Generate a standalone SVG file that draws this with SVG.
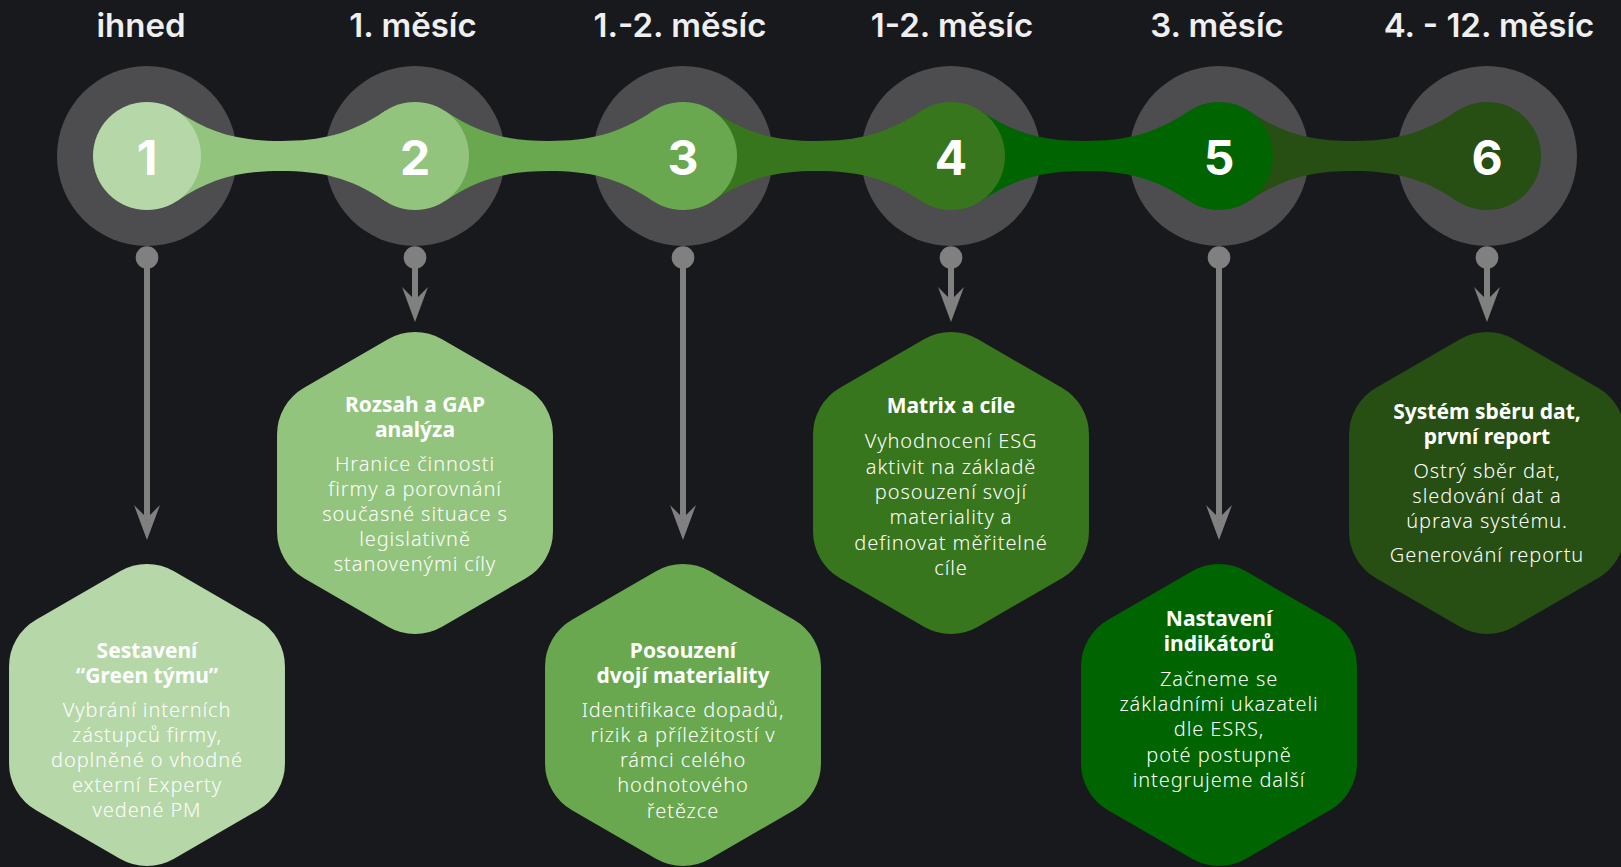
<svg xmlns="http://www.w3.org/2000/svg" width="1621" height="867" viewBox="0 0 1621 867">
<defs>
<style>
.ring{fill:#4d4d4f}
.stem{stroke:#808080;stroke-width:6;fill:none}
.dot{fill:#808080}
.when{font-family:Inter,"Liberation Sans",sans-serif;font-weight:600;font-size:33px;fill:#efefef;text-anchor:middle}
.num{font-family:Inter,"Liberation Sans",sans-serif;font-weight:700;font-size:48px;fill:#ffffff;text-anchor:middle}
.ht{font-family:"Noto Sans","Open Sans",sans-serif;font-weight:700;font-size:21px;fill:#ffffff;text-anchor:middle}
.hb{font-family:"Noto Sans","Open Sans",sans-serif;font-weight:300;font-size:20px;letter-spacing:0.9px;fill:#ffffff;text-anchor:middle}
.c1{fill:#b6d7a8}.c2{fill:#93c47d}.c3{fill:#6aa84f}.c4{fill:#38761d}.c5{fill:#006400}.c6{fill:#274e13}
</style>
<path id="band" d="M30,111.1 C65,134.5 94,141 134,141 C174,141 203,134.5 238,111.1 L238,200.9 C203,177.5 174,171 134,171 C94,171 65,177.5 30,200.9 Z"/>
<path id="hex" d="M-27.02,-143.7 A54,54 0 0 1 27.02,-143.7 L110.94,-95.25 A54,54 0 0 1 137.96,-48.45 L137.96,48.45 A54,54 0 0 1 110.94,95.25 L27.02,143.7 A54,54 0 0 1 -27.02,143.7 L-110.94,95.25 A54,54 0 0 1 -137.96,48.45 L-137.96,-48.45 A54,54 0 0 1 -110.94,-95.25 Z"/>
<marker id="ah" viewBox="0 0 35 26" markerUnits="userSpaceOnUse" markerWidth="35" markerHeight="26" refX="13" refY="13" orient="auto">
<path d="M0,0 L35,13 L0,26 L13,13 Z" fill="#808080"/>
</marker>
</defs>
<rect width="1621" height="867" fill="#18191c"/>

<g id="rings">
<circle class="ring" cx="147" cy="156" r="90"/>
<circle class="ring" cx="415" cy="156" r="90"/>
<circle class="ring" cx="683" cy="156" r="90"/>
<circle class="ring" cx="951" cy="156" r="90"/>
<circle class="ring" cx="1219" cy="156" r="90"/>
<circle class="ring" cx="1487" cy="156" r="90"/>
</g>

<g id="connectors">
<use href="#band" x="147" class="c2"/>
<use href="#band" x="415" class="c3"/>
<use href="#band" x="683" class="c4"/>
<use href="#band" x="951" class="c5"/>
<use href="#band" x="1219" class="c6"/>
<circle class="dot" cx="147" cy="257.5" r="11.3"/>
<circle class="dot" cx="415" cy="257.5" r="11.3"/>
<circle class="dot" cx="683" cy="257.5" r="11.3"/>
<circle class="dot" cx="951" cy="257.5" r="11.3"/>
<circle class="dot" cx="1219" cy="257.5" r="11.3"/>
<circle class="dot" cx="1487" cy="257.5" r="11.3"/>
<line class="stem" x1="147" y1="258" x2="147" y2="518" marker-end="url(#ah)"/>
<line class="stem" x1="415" y1="258" x2="415" y2="300" marker-end="url(#ah)"/>
<line class="stem" x1="683" y1="258" x2="683" y2="518" marker-end="url(#ah)"/>
<line class="stem" x1="951" y1="258" x2="951" y2="300" marker-end="url(#ah)"/>
<line class="stem" x1="1219" y1="258" x2="1219" y2="518" marker-end="url(#ah)"/>
<line class="stem" x1="1487" y1="258" x2="1487" y2="300" marker-end="url(#ah)"/>
</g>

<g id="step-1">
<text class="when" x="141" y="37">ihned</text>
<circle class="c1" cx="147" cy="156" r="54"/>
<text class="num" x="147" y="175">1</text>
</g>
<g id="step-2">
<text class="when" x="413" y="37">1. měsíc</text>
<circle class="c2" cx="415" cy="156" r="54"/>
<text class="num" x="415" y="175">2</text>
</g>
<g id="step-3">
<text class="when" x="680" y="37">1.-2. měsíc</text>
<circle class="c3" cx="683" cy="156" r="54"/>
<text class="num" x="683" y="175">3</text>
</g>
<g id="step-4">
<text class="when" x="952" y="37">1-2. měsíc</text>
<circle class="c4" cx="951" cy="156" r="54"/>
<text class="num" x="951" y="175">4</text>
</g>
<g id="step-5">
<text class="when" x="1217" y="37">3. měsíc</text>
<circle class="c5" cx="1219" cy="156" r="54"/>
<text class="num" x="1219" y="175">5</text>
</g>
<g id="step-6">
<text class="when" x="1489" y="37">4. - 12. měsíc</text>
<circle class="c6" cx="1487" cy="156" r="54"/>
<text class="num" x="1487" y="175">6</text>
</g>

<g id="card-1">
<use href="#hex" x="147" y="715" class="c1"/>
<text class="ht" x="147" y="657.7">Sestavení</text>
<text class="ht" x="147" y="682.7">“Green týmu”</text>
<text class="hb" x="147" y="716.7">Vybrání interních</text>
<text class="hb" x="147" y="741.7">zástupců firmy,</text>
<text class="hb" x="147" y="766.7">doplněné o vhodné</text>
<text class="hb" x="147" y="791.7">externí Experty</text>
<text class="hb" x="147" y="817.3">vedené PM</text>
</g>
<g id="card-2">
<use href="#hex" x="415" y="483" class="c2"/>
<text class="ht" x="415" y="411.7">Rozsah a GAP</text>
<text class="ht" x="415" y="436.7">analýza</text>
<text class="hb" x="415" y="471">Hranice činnosti</text>
<text class="hb" x="415" y="495.7">firmy a porovnání</text>
<text class="hb" x="415" y="520.7">současné situace s</text>
<text class="hb" x="415" y="545.5">legislativně</text>
<text class="hb" x="415" y="570.7">stanovenými cíly</text>
</g>
<g id="card-3">
<use href="#hex" x="683" y="715" class="c3"/>
<text class="ht" x="683" y="657.7">Posouzení</text>
<text class="ht" x="683" y="682.7">dvojí materiality</text>
<text class="hb" x="683" y="717.3">Identifikace dopadů,</text>
<text class="hb" x="683" y="741.7">rizik a příležitostí v</text>
<text class="hb" x="683" y="766.7">rámci celého</text>
<text class="hb" x="683" y="792.3">hodnotového</text>
<text class="hb" x="683" y="817.7">řetězce</text>
</g>
<g id="card-4">
<use href="#hex" x="951" y="483" class="c4"/>
<text class="ht" x="951" y="412.5">Matrix a cíle</text>
<text class="hb" x="951" y="448">Vyhodnocení ESG</text>
<text class="hb" x="951" y="473.5">aktivit na základě</text>
<text class="hb" x="951" y="498.5">posouzení svojí</text>
<text class="hb" x="951" y="524">materiality a</text>
<text class="hb" x="951" y="549.5">definovat měřitelné</text>
<text class="hb" x="951" y="575">cíle</text>
</g>
<g id="card-5">
<use href="#hex" x="1219" y="715" class="c5"/>
<text class="ht" x="1219" y="625.7">Nastavení</text>
<text class="ht" x="1219" y="651">indikátorů</text>
<text class="hb" x="1219" y="685.7">Začneme se</text>
<text class="hb" x="1219" y="710.7">základními ukazateli</text>
<text class="hb" x="1219" y="735.7">dle ESRS,</text>
<text class="hb" x="1219" y="761.7">poté postupně</text>
<text class="hb" x="1219" y="786.7">integrujeme další</text>
</g>
<g id="card-6">
<use href="#hex" x="1487" y="483" class="c6"/>
<text class="ht" x="1487" y="419.3">Systém sběru dat,</text>
<text class="ht" x="1487" y="444.3">první report</text>
<text class="hb" x="1487" y="477.7">Ostrý sběr dat,</text>
<text class="hb" x="1487" y="502.7">sledování dat a</text>
<text class="hb" x="1487" y="528.3">úprava systému.</text>
<text class="hb" x="1487" y="562.3">Generování reportu</text>
</g>
</svg>
